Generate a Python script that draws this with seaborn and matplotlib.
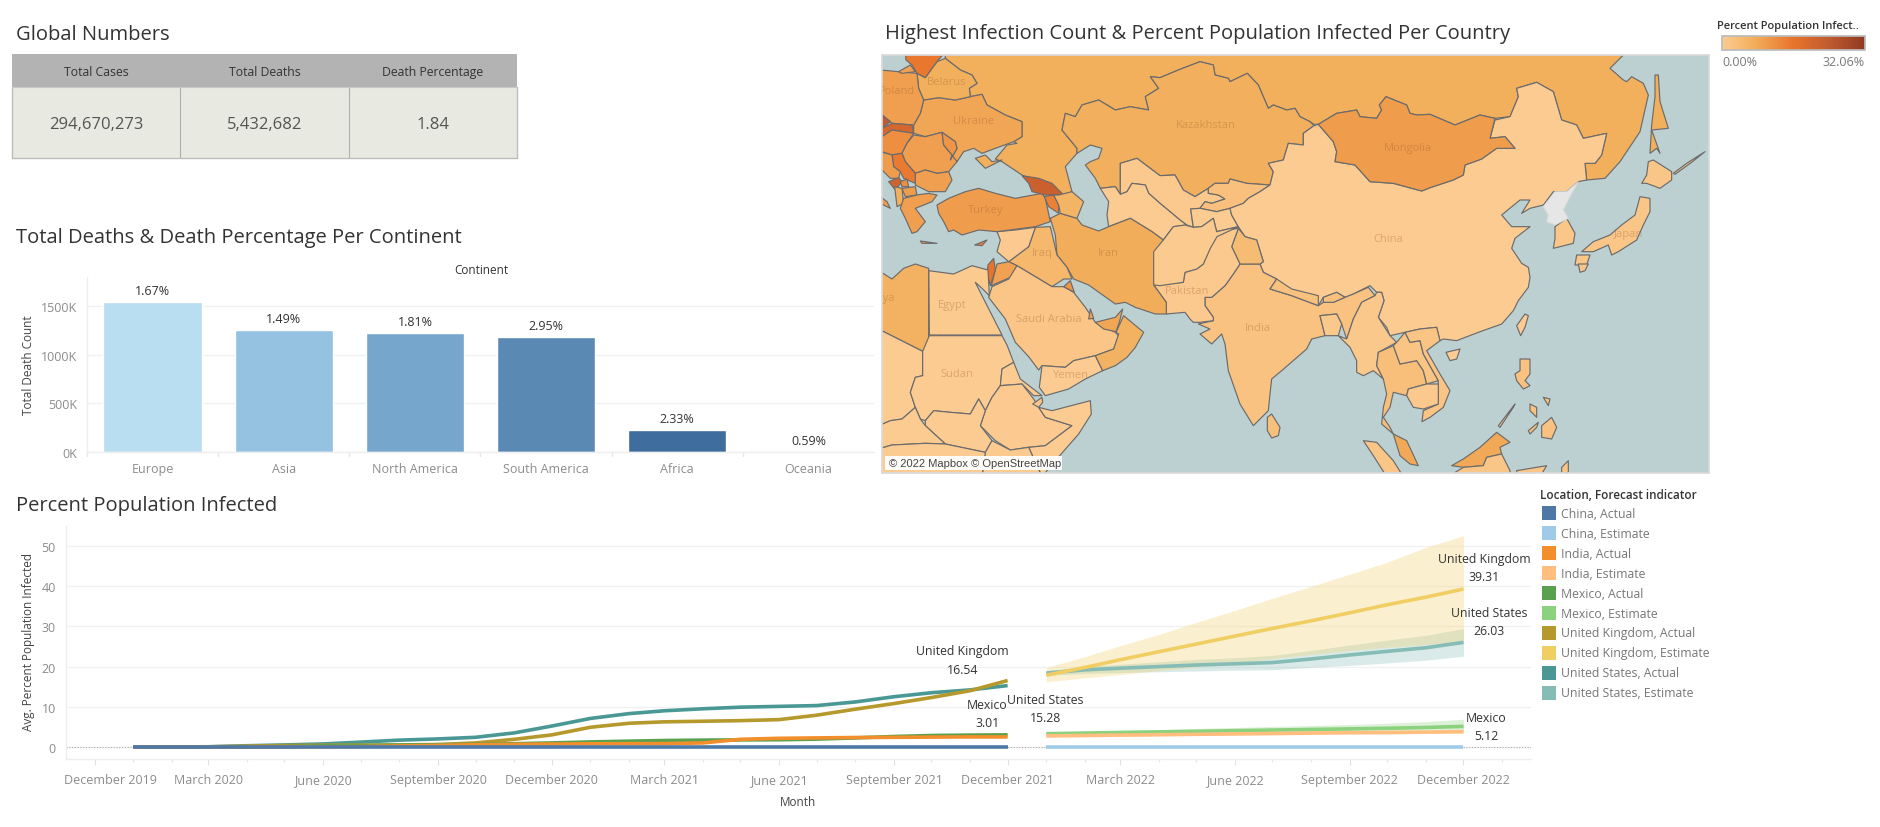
import numpy as np
import pandas as pd
import matplotlib
matplotlib.use("Agg")
import matplotlib.pyplot as plt
import matplotlib.dates as mdates
from matplotlib.colors import LinearSegmentedColormap, Normalize
from matplotlib.cm import ScalarMappable
from matplotlib.transforms import ScaledTranslation
import seaborn as sns

# ---------- Global numbers ----------
TABLE_HEADERS = ["Total Cases", "Total Deaths", "Death Percentage"]
TABLE_VALUES = ["294,670,273", "5,432,682", "1.84"]

# ---------- Continents ----------
CONTINENTS = ["Europe", "Asia", "North America", "South America", "Africa", "Oceania"]
DEATHS = [1541000, 1254000, 1223000, 1182000, 226000, 3000]
DEATH_PCT = ["1.67%", "1.49%", "1.81%", "2.95%", "2.33%", "0.59%"]
BAR_COLORS = ["#B9DDF1", "#95C2E0", "#76A6CC", "#5A89B4", "#3F6D9E", "#2A5783"]

# ---------- Percent population infected: monthly series ----------
ACTUAL_MONTHS = pd.date_range("2020-01-01", "2021-12-01", freq="MS")
EST_MONTHS = pd.date_range("2022-01-01", "2022-12-01", freq="MS")

US_ACTUAL = [0, 0, .05, .3, .5, .75, 1.2, 1.7, 2.0, 2.4, 3.5, 5.2, 7.1, 8.3, 9.0, 9.5, 9.9, 10.1, 10.3, 11.2, 12.5, 13.5, 14.2, 15.28]
UK_ACTUAL = [0, 0, .03, .2, .35, .42, .45, .5, .6, 1.0, 1.9, 3.0, 4.9, 5.9, 6.25, 6.4, 6.55, 6.8, 7.9, 9.4, 10.8, 12.3, 14.0, 16.54]
MX_ACTUAL = [0, 0, 0, .02, .1, .25, .35, .45, .55, .65, .8, 1.0, 1.25, 1.45, 1.6, 1.7, 1.75, 1.8, 1.95, 2.25, 2.6, 2.85, 2.95, 3.01]
IN_ACTUAL = [0, 0, 0, 0, .01, .04, .1, .25, .4, .55, .65, .72, .78, .8, .83, 1.0, 1.9, 2.15, 2.25, 2.35, 2.4, 2.45, 2.5, 2.5]
CN_ACTUAL = [.01] * 24

US_EST = [18.4, 19.2, 19.6, 20.0, 20.4, 20.7, 21.0, 21.9, 22.9, 23.8, 24.7, 26.03]
US_LOW = [17.8, 18.3, 18.5, 18.7, 18.9, 19.1, 19.2, 19.8, 20.3, 20.9, 21.6, 22.6]
US_HIGH = [19.0, 20.0, 20.6, 21.2, 21.8, 22.2, 22.8, 24.0, 25.4, 26.6, 27.8, 29.5]
UK_EST = [17.85, 19.8, 21.7, 23.7, 25.6, 27.6, 29.5, 31.4, 33.4, 35.4, 37.3, 39.31]
UK_LOW = [16.2, 17.2, 18.0, 19.0, 19.9, 20.9, 22.0, 23.0, 24.0, 24.8, 25.5, 26.2]
UK_HIGH = [19.75, 22.5, 25.2, 28.0, 31.0, 34.0, 37.0, 40.0, 43.0, 46.0, 49.7, 52.6]
MX_EST = [3.3, 3.45, 3.6, 3.75, 3.9, 4.05, 4.2, 4.35, 4.5, 4.65, 4.85, 5.12]
MX_LOW = [3.1, 3.2, 3.3, 3.4, 3.5, 3.6, 3.7, 3.75, 3.8, 3.9, 3.95, 4.0]
MX_HIGH = [3.55, 3.8, 4.05, 4.3, 4.6, 4.85, 5.1, 5.35, 5.6, 5.9, 6.3, 6.9]
IN_EST = [2.75, 2.85, 2.95, 3.05, 3.15, 3.25, 3.35, 3.45, 3.55, 3.6, 3.7, 3.8]
IN_LOW = [2.5, 2.6, 2.65, 2.75, 2.85, 2.95, 3.0, 3.1, 3.2, 3.25, 3.35, 3.45]
IN_HIGH = [3.0, 3.1, 3.25, 3.35, 3.45, 3.6, 3.7, 3.8, 3.9, 4.0, 4.1, 4.3]
CN_EST = [.02] * 12

LOCATIONS = ["United States", "United Kingdom", "Mexico", "India", "China"]
LEGEND_LABELS = ["China, Actual", "China, Estimate", "India, Actual", "India, Estimate", "Mexico, Actual",
                 "Mexico, Estimate", "United Kingdom, Actual", "United Kingdom, Estimate",
                 "United States, Actual", "United States, Estimate"]
LEGEND_COLORS = ["#4E79A7", "#A0CBE8", "#F28E2B", "#FFBE7D", "#59A14F", "#8CD17D", "#B6992D", "#F1CE63", "#499894", "#86BCB6"]

# ---------- Map: simplified country outlines in map units, and their values ----------
RUSSIA = [(190,-10),(190,10),(235,45),(270,60),(285,85),(262,100),(265,125),(300,118),(315,150),(370,180),(420,200),(420,245),(395,260),(405,265),(375,270),(340,312),(360,320),(420,360),(545,420),(570,410),(550,335),(585,295),(585,280),(540,225),(550,175),(580,185),(600,150),(650,135),(700,165),(745,155),(800,165),(790,125),(830,100),(805,65),(834,68),(889,45),(954,20),(994,30),(999,60),(1039,70),(1044,80),(1096,55),(1129,90),(1159,160),(1174,150),(1214,165),(1239,160),(1254,185),(1284,200),(1296,208),(1309,208),(1364,175),(1424,165),(1434,185),(1484,190),(1499,165),(1492,150),(1512,125),(1574,150),(1584,175),(1604,180),(1644,178),(1719,210),(1794,180),(1839,190),(1884,185),(1909,125),(1904,100),(1964,82),(2014,110),(2039,195),(2084,210),(2104,250),(2174,235),(2159,300),(2139,325),(2109,325),(2114,375),(2169,370),(2214,320),(2274,230),(2299,120),(2284,85),(2249,65),(2234,80),(2224,75),(2184,40),(2224,0),(2224,-10)]
KAZAKHSTAN = [(585,280),(585,295),(625,270),(660,280),(650,310),(625,320),(610,330),(640,370),(655,400),(700,395),(715,418),(715,325),(765,310),(834,362),(879,360),(904,405),(939,425),(979,400),(999,385),(1039,385),(1044,372),(1094,385),(1164,390),(1174,350),(1159,325),(1204,315),(1219,265),(1264,270),(1264,235),(1296,212),(1284,200),(1254,185),(1239,160),(1214,165),(1174,150),(1159,160),(1129,90),(1096,55),(1044,80),(1039,70),(999,60),(994,30),(954,20),(889,45),(834,68),(805,65),(830,100),(790,125),(800,165),(745,155),(700,165),(650,135),(600,150),(580,185),(550,175),(540,225)]
UZBEKISTAN = [(715,325),(765,310),(834,362),(879,360),(904,405),(939,425),(979,400),(979,415),(1009,420),(1029,432),(989,445),(969,440),(954,460),(926,462),(934,517),(914,510),(894,495),(834,445),(800,415),(790,390),(750,385),(735,410),(715,418)]
TURKMENISTAN = [(655,400),(700,395),(715,418),(735,410),(750,385),(790,390),(800,415),(834,445),(894,495),(914,510),(874,515),(844,555),(810,530),(745,490),(680,515),(675,480),(680,440)]
KYRGYZSTAN = [(979,400),(999,385),(1039,385),(1044,372),(1094,385),(1164,390),(1134,410),(1099,430),(1084,445),(1044,460),(1004,470),(954,460),(969,440),(989,445),(1029,432),(1009,420),(979,415)]
TAJIKISTAN = [(954,460),(1004,470),(1044,460),(1049,480),(1069,515),(1004,530),(994,490),(959,515),(934,517),(926,462)]
CHINA = [(1296,212),(1309,208),(1354,260),(1364,290),(1359,320),(1419,330),(1464,380),(1534,385),(1619,408),(1644,398),(1714,375),(1744,360),(1749,330),(1799,312),(1844,280),(1899,280),(1869,245),(1824,250),(1839,195),(1884,185),(1909,125),(1904,100),(1964,82),(2014,110),(2039,195),(2084,210),(2104,250),(2174,235),(2159,300),(2139,325),(2109,325),(2114,375),(2089,380),(2054,410),(2014,410),(1984,450),(1944,460),(1919,475),(1944,435),(1914,435),(1859,480),(1889,515),(1944,515),(1899,550),(1889,580),(1919,625),(1939,637),(1944,667),(1939,697),(1909,737),(1894,767),(1859,807),(1789,832),(1724,857),(1684,852),(1674,857),(1664,817),(1614,822),(1569,832),(1524,842),(1514,817),(1489,787),(1506,737),(1499,712),(1484,712),(1464,692),(1414,717),(1389,727),(1364,712),(1324,727),(1309,752),(1229,722),(1164,702),(1184,672),(1144,652),(1134,627),(1144,620),(1124,555),(1089,545),(1069,515),(1049,480),(1044,460),(1084,445),(1099,430),(1134,410),(1164,390),(1174,350),(1159,325),(1204,315),(1219,265),(1264,270),(1264,235)]
MONGOLIA = [(1309,208),(1364,175),(1424,165),(1434,185),(1484,190),(1499,165),(1492,150),(1512,125),(1574,150),(1584,175),(1604,180),(1644,178),(1719,210),(1794,180),(1839,190),(1824,250),(1869,245),(1899,280),(1844,280),(1799,312),(1749,330),(1744,360),(1714,375),(1644,398),(1619,408),(1534,385),(1464,380),(1419,330),(1359,320),(1364,290),(1354,260)]
INDIA = [(1074,627),(1134,627),(1144,652),(1184,672),(1164,702),(1229,722),(1309,752),(1324,742),(1354,742),(1389,727),(1414,717),(1459,697),(1479,722),(1439,742),(1414,792),(1394,852),(1379,807),(1364,777),(1314,782),(1329,842),(1289,852),(1274,882),(1199,947),(1169,972),(1164,1017),(1159,1067),(1114,1112),(1074,1047),(1039,947),(1029,867),(1019,837),(989,867),(954,837),(984,822),(949,807),(994,797),(994,787),(969,752),(969,727),(989,727),(1029,692),(1054,657)]
NEPAL = [(1184,672),(1229,702),(1309,722),(1309,752),(1229,722),(1164,702)]
BHUTAN = [(1324,727),(1364,712),(1389,727),(1354,742),(1324,742)]
BANGLADESH = [(1314,782),(1364,777),(1379,807),(1369,842),(1329,842)]
KASHMIR = [(1049,575),(1069,520),(1089,545),(1124,555),(1144,620),(1134,627),(1074,627)]
PAKISTAN = [(1004,530),(1069,520),(1049,575),(1074,627),(1054,657),(1029,692),(989,727),(969,727),(969,752),(994,787),(994,797),(954,802),(934,802),(924,792),(909,772),(853,777),(853,742),(815,690),(904,682),(909,652),(944,642),(964,627),(979,590)]
AFGHANISTAN = [(844,555),(874,515),(909,510),(934,517),(959,515),(994,490),(1004,530),(1069,515),(1005,545),(985,580),(964,627),(944,642),(909,652),(904,682),(834,692),(815,690),(805,592),(815,545)]
IRAN = [(505,490),(535,475),(585,490),(600,510),(650,528),(680,515),(745,490),(810,530),(844,555),(815,590),(815,690),(853,742),(853,777),(820,777),(760,757),(730,742),(700,747),(620,690),(575,672),(555,637),(525,600),(520,540)]
IRAQ = [(460,517),(505,515),(525,600),(555,637),(570,672),(545,672),(510,695),(405,632),(380,620),(440,575)]
SYRIA = [(345,530),(400,525),(460,517),(440,575),(380,620),(345,590),(355,555)]
JORDAN = [(345,627),(380,620),(405,632),(385,667),(328,692),(340,645)]
ISRAEL = [(318,630),(335,610),(340,645),(325,692),(315,657)]
SAUDI = [(330,695),(380,672),(405,632),(510,695),(545,695),(575,712),(610,757),(640,802),(700,832),(710,842),(695,882),(640,902),(575,917),(550,937),(480,932),(470,945),(440,905),(400,862),(370,792),(320,727)]
YEMEN = [(480,932),(550,937),(575,917),(640,902),(662,947),(610,972),(560,1002),(490,1022),(472,997)]
OMAN = [(640,902),(695,882),(710,837),(702,832),(725,782),(785,832),(760,877),(735,907),(700,932),(662,947)]
UAE = [(640,802),(700,787),(722,762),(712,802),(702,830),(665,822)]
QATAR = [(625,762),(635,790),(620,792)]
KUWAIT = [(545,695),(565,677),(577,712)]
TURKEY = [(165,450),(200,430),(250,410),(290,400),(340,415),(400,430),(480,415),(490,430),(505,500),(460,515),(345,530),(290,525),(240,540),(215,525),(200,530),(185,500),(170,475)]
GEORGIA = [(420,362),(470,370),(510,385),(545,420),(490,420),(450,410),(440,385)]
ARMENIA = [(487,425),(515,420),(530,450),(530,475),(500,455)]
AZERBAIJAN = [(530,420),(570,410),(605,440),(585,490),(535,475),(530,450),(515,420)]
UKRAINE = [(125,135),(170,128),(220,135),(265,125),(300,118),(315,150),(370,180),(420,200),(420,245),(395,260),(340,280),(300,295),(275,280),(245,290),(225,320),(205,315),(225,280),(220,260),(180,232),(130,245),(95,235),(95,210),(115,175)]
CRIMEA = [(280,310),(310,300),(330,320),(360,315),(310,340)]
BELARUS = [(105,55),(130,68),(150,40),(165,20),(190,10),(235,45),(270,60),(285,85),(262,100),(265,125),(220,135),(170,128),(125,135),(110,100)]
POLAND = [(-5,45),(50,50),(105,55),(110,100),(125,135),(115,175),(95,210),(30,205),(0,180),(-5,180)]
BALTICS = [(70,-10),(190,-10),(165,20),(150,40),(130,68),(105,55),(90,30),(72,15)]
KALININGRAD = [(50,50),(85,30),(100,50),(60,55)]
CZECHIA = [(-5,175),(25,200),(0,220),(-5,215)]
SLOVAKIA = [(0,220),(30,205),(90,210),(95,235),(30,225),(0,245)]
HUNGARY = [(0,245),(30,225),(95,235),(75,265),(60,295),(30,300),(0,290)]
ROMANIA = [(95,240),(130,245),(180,232),(185,270),(210,300),(225,320),(200,350),(165,355),(130,345),(100,355),(70,320),(60,295),(75,265)]
MOLDOVA = [(180,232),(220,260),(225,280),(205,315),(210,300),(185,270)]
BULGARIA = [(100,355),(130,345),(165,355),(200,350),(210,375),(190,410),(140,410),(100,390)]
SERBIA = [(30,300),(60,295),(70,320),(100,355),(100,385),(65,370),(55,350),(35,335)]
CROATIA = [(-5,290),(30,300),(35,335),(55,350),(50,370),(25,370),(-5,340)]
MONTENEGRO = [(20,380),(50,368),(60,380),(40,405)]
KOSOVO = [(55,380),(75,372),(80,395),(60,395)]
MACEDONIA = [(60,400),(100,395),(105,420),(70,425)]
ALBANIA = [(38,395),(60,400),(65,445),(45,455)]
GREECE = [(65,430),(105,420),(140,415),(165,420),(150,440),(100,460),(130,500),(105,530),(90,535),(70,490),(55,460)]
ITALY = [(-5,425),(15,440),(25,460),(-5,445)]
CYPRUS = [(278,570),(315,555),(300,572)]
CRETE = [(115,558),(165,565),(120,565)]
EGYPT = [(140,647),(215,657),(270,632),(318,645),(322,722),(300,700),(280,682),(300,722),(360,840),(142,840)]
LIBYA = [(-5,650),(30,672),(65,640),(100,627),(140,640),(140,882),(122,889),(-5,825)]
CHAD = [(-5,825),(122,889),(122,962),(100,967),(85,1012),(100,1057),(60,1092),(25,1097),(-5,1110)]
SUDAN = [(142,842),(360,842),(375,870),(395,922),(360,942),(355,992),(330,1027),(310,1067),(290,1032),(265,1077),(205,1072),(155,1067),(130,1097),(115,1092),(100,1057),(85,1012),(100,967),(122,962),(122,889)]
ERITREA = [(395,922),(415,972),(480,1022),(455,1022),(420,987),(355,992),(360,942)]
ETHIOPIA = [(355,992),(420,987),(455,1032),(470,1057),(490,1087),(570,1112),(490,1172),(440,1177),(385,1185),(340,1157),(295,1112),(310,1067),(330,1027)]
DJIBOUTI = [(452,1047),(480,1027),(482,1042),(470,1057)]
SOMALIA = [(470,1057),(510,1067),(625,1037),(628,1077),(590,1137),(520,1217),(480,1265),(440,1177),(490,1172),(570,1112),(490,1087)]
SOUTH_SUDAN = [(130,1097),(155,1067),(205,1072),(265,1077),(290,1032),(310,1067),(295,1112),(330,1157),(310,1192),(190,1167),(130,1112)]
CAR = [(-5,1110),(25,1097),(60,1092),(100,1057),(115,1092),(130,1112),(190,1167),(130,1165),(30,1170),(-5,1180)]
KENYA = [(330,1157),(385,1185),(440,1177),(480,1265),(300,1265),(310,1192)]
CONGO = [(-5,1180),(30,1170),(130,1165),(190,1167),(310,1192),(300,1265),(-5,1265)]
MYANMAR = [(1414,792),(1439,742),(1479,722),(1484,712),(1499,712),(1506,737),(1489,787),(1524,842),(1544,862),(1489,892),(1484,932),(1504,972),(1474,947),(1444,962),(1424,952),(1424,917),(1404,877),(1369,842),(1394,852)]
THAILAND = [(1489,892),(1534,872),(1554,927),(1604,917),(1624,947),(1634,987),(1579,1002),(1574,1022),(1534,1012),(1524,1057),(1504,1087),(1524,1117),(1534,1137),(1499,1107),(1504,1057),(1514,1017),(1504,972),(1484,932)]
LAOS = [(1544,862),(1569,832),(1584,862),(1614,857),(1624,897),(1669,977),(1634,987),(1624,947),(1604,917),(1554,927),(1534,872)]
VIETNAM = [(1569,832),(1614,822),(1664,817),(1674,857),(1634,887),(1674,957),(1704,1007),(1684,1057),(1644,1087),(1620,1100),(1624,1067),(1669,1047),(1669,977),(1624,897),(1614,857),(1584,862)]
CAMBODIA = [(1579,1002),(1634,987),(1669,987),(1669,1047),(1624,1062),(1594,1057),(1574,1022)]
MALAYA = [(1534,1137),(1574,1157),(1609,1232),(1584,1227),(1554,1202)]
SUMATRA = [(1444,1157),(1484,1162),(1534,1217),(1564,1265),(1514,1265),(1474,1202)]
SRI_LANKA = [(1156,1087),(1169,1077),(1194,1117),(1189,1142),(1169,1149),(1156,1127)]
HAINAN = [(1692,892),(1734,882),(1724,912),(1704,917)]
TAIWAN = [(1904,812),(1929,777),(1939,782),(1929,817),(1916,842)]
LUZON = [(1914,912),(1944,912),(1944,957),(1929,977),(1944,992),(1924,1002),(1904,977),(1899,957),(1914,947)]
MINDANAO = [(1979,1112),(2009,1087),(2024,1117),(2009,1152),(1979,1147)]
VISAYAS_A = [(1944,1047),(1964,1057),(1964,1087),(1944,1067)]
VISAYAS_B = [(1984,1027),(2004,1032),(1999,1052)]
ZAMBOANGA = [(1939,1127),(1969,1102),(1964,1117),(1944,1137)]
PALAWAN = [(1849,1112),(1899,1047),(1894,1057),(1854,1117)]
SABAH = [(1709,1232),(1744,1212),(1794,1177),(1844,1132),(1884,1162),(1854,1177),(1859,1197),(1814,1207),(1804,1232),(1744,1237)]
KALIMANTAN = [(1699,1265),(1744,1237),(1804,1232),(1814,1207),(1859,1197),(1884,1247),(1884,1265)]
SULAWESI = [(1904,1247),(1994,1232),(1974,1265),(1904,1265)]
HALMAHERA = [(2039,1237),(2059,1217),(2059,1252),(2039,1257)]
SOUTH_KOREA = [(2019,515),(2054,490),(2079,535),(2074,565),(2014,580),(2019,550)]
SAKHALIN = [(2319,60),(2329,60),(2334,140),(2359,220),(2309,225),(2334,295),(2324,280),(2304,295),(2309,210),(2319,125)]
HOKKAIDO = [(2299,320),(2314,315),(2369,350),(2369,375),(2334,400),(2294,385),(2279,385),(2294,360)]
HONSHU = [(2274,425),(2304,430),(2304,470),(2284,510),(2264,555),(2209,590),(2189,600),(2179,570),(2134,590),(2099,590),(2134,560),(2184,540),(2219,510),(2259,480)]
SHIKOKU = [(2084,600),(2124,600),(2114,630),(2079,630)]
KYUSHU = [(2089,627),(2119,627),(2109,647),(2094,652)]
KURILS = [(2374,355),(2414,325),(2469,290),(2434,318),(2379,358)]
NORTH_KOREA = [(1984,455),(2019,410),(2054,410),(2089,380),(2064,425),(2044,465),(2059,490),(2019,510),(1994,500),(1999,480)]

OUTLINES = [RUSSIA, KAZAKHSTAN, UZBEKISTAN, TURKMENISTAN, KYRGYZSTAN, TAJIKISTAN, CHINA, MONGOLIA, INDIA, NEPAL, BHUTAN,
            BANGLADESH, KASHMIR, PAKISTAN, AFGHANISTAN, IRAN, IRAQ, SYRIA, JORDAN, ISRAEL, SAUDI, YEMEN, OMAN, UAE, QATAR,
            KUWAIT, TURKEY, GEORGIA, ARMENIA, AZERBAIJAN, UKRAINE, CRIMEA, BELARUS, POLAND, BALTICS, KALININGRAD, CZECHIA,
            SLOVAKIA, HUNGARY, ROMANIA, MOLDOVA, BULGARIA, SERBIA, CROATIA, MONTENEGRO, KOSOVO, MACEDONIA, ALBANIA, GREECE,
            ITALY, CYPRUS, CRETE, EGYPT, LIBYA, CHAD, SUDAN, ERITREA, ETHIOPIA, DJIBOUTI, SOMALIA, SOUTH_SUDAN, CAR, KENYA,
            CONGO, MYANMAR, THAILAND, LAOS, VIETNAM, CAMBODIA, MALAYA, SUMATRA, SRI_LANKA, HAINAN, TAIWAN, LUZON, MINDANAO,
            VISAYAS_A, VISAYAS_B, ZAMBOANGA, PALAWAN, SABAH, KALIMANTAN, SULAWESI, HALMAHERA, SOUTH_KOREA, SAKHALIN,
            HOKKAIDO, HONSHU, SHIKOKU, KYUSHU, KURILS]
INFECTED_PCT = [7.0, 6.8, 0.6, 0.05, 2.9, 0.2, 0.01, 10.0, 2.5, 2.7, 3.0,
                1.0, 4.0, 0.6, 0.4, 7.5, 5.0, 0.3, 9.0, 16.0, 1.6, 0.03, 6.5, 8.5, 9.0,
                11.0, 10.0, 22.0, 14.0, 6.0, 8.5, 7.0, 7.0, 9.5, 15.5, 9.0, 24.0,
                20.0, 12.0, 9.5, 11.0, 9.5, 15.0, 10.0, 21.0, 12.0, 10.0, 7.0, 9.5,
                10.0, 14.0, 9.5, 0.4, 6.5, 0.05, 0.1, 0.1, 0.3, 1.3, 0.05, 0.1, 0.1, 0.4,
                0.2, 1.0, 3.2, 2.0, 1.8, 0.7, 8.0, 1.5, 2.8, 0.01, 0.1, 2.5, 2.5,
                2.5, 2.5, 2.5, 2.5, 8.0, 1.5, 1.5, 1.5, 1.2, 7.0,
                1.4, 1.4, 1.4, 1.4, 1.4]
MAP_LABELS = ["Belarus", "Poland", "Ukraine", "Turkey", "Iraq", "Iran", "Kazakhstan", "Mongolia", "China", "Pakistan",
              "India", "Saudi Arabia", "Egypt", "Sudan", "Yemen", "Libya", "Japan"]
MAP_LABEL_X = [195, 45, 275, 310, 480, 680, 971, 1579, 1519, 914, 1129, 500, 210, 225, 565, 0, 2239]
MAP_LABEL_Y = [80, 105, 197, 462, 592, 593, 210, 277, 552, 707, 817, 789, 749, 955, 960, 727, 535]
PCT_MIN, PCT_MAX = 0.0, 32.06

# ---------- Figure ----------
W, H = 1880, 828
sns.set_theme(style="white")
plt.rcParams["font.family"] = ["Open Sans", "DejaVu Sans"]
fig = plt.figure(figsize=(W / 100, H / 100), dpi=100, facecolor="white")


def box(l, t, r, b):
    return [l / W, 1 - b / H, (r - l) / W, (b - t) / H]


def ftext(x, y, s, **kw):
    kw.setdefault("va", "center")
    kw.setdefault("color", "#333333")
    return fig.text(x / W, 1 - y / H, s, **kw)


TITLE = 14.5
ftext(16, 35, "Global Numbers", fontsize=TITLE)
ftext(16, 238, "Total Deaths & Death Percentage Per Continent", fontsize=TITLE)
ftext(885, 34, "Highest Infection Count & Percent Population Infected Per Country", fontsize=TITLE)
ftext(16, 506, "Percent Population Infected", fontsize=TITLE)

# ---------- Table ----------
axt = fig.add_axes(box(12, 55, 517, 159))
axt.set_xlim(0, 3)
axt.set_ylim(0, 104)
axt.axis("off")
axt.axhspan(71, 104, color="#B3B3B3", lw=0)
axt.axhspan(0, 71, color="#E8E9E0", lw=0)
for i, (h, v) in enumerate(zip(TABLE_HEADERS, TABLE_VALUES)):
    axt.text(i + .5, 86.5, h, ha="center", va="center", fontsize=8.8, color="#333333")
    axt.text(i + .5, 34, v, ha="center", va="center", fontsize=12, color="#555555")
axt.plot([1, 1], [0, 71], color="#B0B0B0", lw=.8)
axt.plot([2, 2], [0, 71], color="#B0B0B0", lw=.8)
axt.plot([0, 0, 3, 3], [71, 0, 0, 71], color="#BDBDBD", lw=1, clip_on=False)
axt.plot([0, 3], [71, 71], color="#C8C8C8", lw=.8)

# ---------- Bars ----------
axb = fig.add_axes(box(87, 278, 874, 453))
bar_df = pd.DataFrame({"Continent": CONTINENTS, "Deaths": DEATHS})
sns.barplot(data=bar_df, x="Continent", y="Deaths", hue="Continent", palette=BAR_COLORS, width=0.75,
            legend=False, ax=axb, saturation=1)
axb.set_xlim(-.5, 5.5)
axb.set_ylim(0, 1800000)
axb.set_yticks([0, 500000, 1000000, 1500000])
axb.set_yticklabels(["0K", "500K", "1000K", "1500K"], fontsize=9, color="#8C8C8C")
axb.yaxis.get_ticklabels()[0].set_transform(
    axb.yaxis.get_ticklabels()[0].get_transform() + ScaledTranslation(0, 8 / 100, fig.dpi_scale_trans))
axb.tick_params(axis="y", length=0, pad=7)
axb.set_xticks(range(6))
axb.set_xticklabels(CONTINENTS, fontsize=9, color="#8C8C8C")
axb.tick_params(axis="x", length=0, pad=7)
axb.set_xlabel("")
axb.set_ylabel("")
ftext(29, 365, "Total Death Count", fontsize=8.5, rotation=90, ha="center", color="#444444")
axb.grid(axis="y", color="#F1F1F1", lw=1)
axb.set_axisbelow(True)
sns.despine(ax=axb, right=True, top=True)
for side in ("left", "bottom"):
    axb.spines[side].set_color("#EEEEEE")
    axb.spines[side].set_linewidth(1)
for edge in np.arange(-.5, 5.5):
    axb.plot([edge, edge], [0, -.025], transform=axb.get_xaxis_transform(), color="#E6E6E6", lw=1, clip_on=False)
for i, (d, p) in enumerate(zip(DEATHS, DEATH_PCT)):
    axb.annotate(p, (i, d), xytext=(0, 3.5), textcoords="offset points", ha="center", va="bottom",
                 fontsize=9, color="#333333")
ftext(481, 270, "Continent", fontsize=8.5, ha="center")

# ---------- Map ----------
cmap = LinearSegmentedColormap.from_list(
    "infected", [(0, "#FCCB92"), (.22, "#F2AF5C"), (.5, "#E8732A"), (.75, "#C05A30"), (1, "#8E3A20")])
norm = Normalize(PCT_MIN, PCT_MAX)
axm = fig.add_axes(box(882, 56, 1709, 474), facecolor="#BDD0D1")
axm.set_xlim(0, 2481)
axm.set_ylim(1254, 0)
axm.set_xticks([])
axm.set_yticks([])
for outline, pct in zip(OUTLINES, INFECTED_PCT):
    xs, ys = zip(*outline)
    axm.fill(xs, ys, facecolor=cmap(norm(pct)), edgecolor="#6B6B6B", lw=.85, joinstyle="round")
xs, ys = zip(*NORTH_KOREA)
axm.fill(xs, ys, facecolor="#E6E6E6", edgecolor="#DADADA", lw=.6)
for name, x, y in zip(MAP_LABELS, MAP_LABEL_X, MAP_LABEL_Y):
    axm.text(x, y, name, ha="center", va="center", fontsize=8, color="#9A5A28", alpha=.33, clip_on=True)
for s in axm.spines.values():
    s.set_color("#DADADA")
axm.add_patch(plt.Rectangle((10, 1202), 530, 42, facecolor="white", edgecolor="none", alpha=.95, zorder=5))
axm.text(20, 1223, "© 2022 Mapbox © OpenStreetMap", fontsize=8, color="#444444", va="center", ha="left",
         family="Liberation Sans", zorder=6)

# Colour legend
ftext(1717, 26, "Percent Population Infect..", fontsize=8, color="#333333", fontweight="semibold")
axc = fig.add_axes(box(1722, 37, 1865, 51))
cb = fig.colorbar(ScalarMappable(norm=norm, cmap=cmap), cax=axc, orientation="horizontal")
cb.set_ticks([])
cb.outline.set_edgecolor("#BBBBBB")
ftext(1722, 63, "0.00%", fontsize=9, color="#777777")
ftext(1865, 63, "32.06%", fontsize=9, color="#777777", ha="right")

# ---------- Time series ----------
axl = fig.add_axes(box(65.6, 527, 1531, 760))
actual_values = [US_ACTUAL, UK_ACTUAL, MX_ACTUAL, IN_ACTUAL, CN_ACTUAL]
est_values = [US_EST, UK_EST, MX_EST, IN_EST, CN_EST]
bands = [(US_LOW, US_HIGH), (UK_LOW, UK_HIGH), (MX_LOW, MX_HIGH), (IN_LOW, IN_HIGH)]
actual_df = pd.concat([pd.DataFrame({"Month": ACTUAL_MONTHS, "Value": v, "Series": f"{n}, Actual"})
                       for n, v in zip(LOCATIONS, actual_values)], ignore_index=True)
est_df = pd.concat([pd.DataFrame({"Month": EST_MONTHS, "Value": v, "Series": f"{n}, Estimate"})
                    for n, v in zip(LOCATIONS, est_values)], ignore_index=True)
palette = dict(zip(LEGEND_LABELS, LEGEND_COLORS))

for n, (lo, hi) in zip(LOCATIONS, bands):
    axl.fill_between(EST_MONTHS, lo, hi, color=palette[f"{n}, Estimate"], alpha=.3, lw=0, zorder=1.5)
axl.axhline(0, color="#AAAAAA", lw=.8, ls=(0, (1, 1.5)), zorder=1.2)
sns.lineplot(data=actual_df, x="Month", y="Value", hue="Series", palette=palette, estimator=None, lw=2.6,
             legend=False, ax=axl, zorder=3, solid_capstyle="butt")
sns.lineplot(data=est_df, x="Month", y="Value", hue="Series", palette=palette, estimator=None, lw=2.6,
             legend=False, ax=axl, zorder=3, solid_capstyle="butt")

PX_DAY = (1463.5 - 94.6) / 1096
axl.set_xlim(pd.Timestamp("2019-12-01") - pd.Timedelta(days=(94.6 - 65.6) / PX_DAY),
             pd.Timestamp("2022-12-01") + pd.Timedelta(days=(1531 - 1463.5) / PX_DAY))
axl.set_ylim(-3, 55)
axl.set_yticks(range(0, 60, 10))
axl.tick_params(axis="y", length=0, pad=7, labelsize=9, labelcolor="#8C8C8C")
axl.xaxis.set_major_locator(mdates.MonthLocator(bymonth=[3, 6, 9, 12]))
axl.xaxis.set_major_formatter(mdates.DateFormatter("%B %Y"))
axl.xaxis.set_minor_locator(mdates.MonthLocator())
axl.tick_params(axis="x", which="major", bottom=True, length=4, width=.8, color="#E0E0E0", pad=6, labelsize=9,
                labelcolor="#8C8C8C")
axl.tick_params(axis="x", which="minor", bottom=True, length=2, width=.8, color="#E6E6E6")
fig.canvas.draw()
first = axl.xaxis.get_major_ticks()[0].label1
first.set_transform(first.get_transform() + ScaledTranslation(16 / 100, 0, fig.dpi_scale_trans))
axl.set_xlabel("")
axl.set_ylabel("")
ftext(29, 642, "Avg. Percent Population Infected", fontsize=8.5, rotation=90, ha="center", color="#444444")
ftext(798, 803, "Month", fontsize=8.5, ha="center", color="#444444")
axl.grid(axis="y", color="#F1F1F1", lw=1)
axl.set_axisbelow(True)
sns.despine(ax=axl, right=True, top=True)
for side in ("left", "bottom"):
    axl.spines[side].set_color("#EEEEEE")
    axl.spines[side].set_linewidth(1)

END_LABELS = [("United Kingdom", UK_ACTUAL[-1], ACTUAL_MONTHS[-1], -45, 652, 671),
              ("Mexico", MX_ACTUAL[-1], ACTUAL_MONTHS[-1], -20, 706, 724),
              ("United States", US_ACTUAL[-1], ACTUAL_MONTHS[-1], 38, 701, 719),
              ("United Kingdom", UK_EST[-1], EST_MONTHS[-1], 21, 560, 578),
              ("United States", US_EST[-1], EST_MONTHS[-1], 26, 614, 632),
              ("Mexico", MX_EST[-1], EST_MONTHS[-1], 23, 719, 737)]
for name, val, month, dx, y1, y2 in END_LABELS:
    px = axl.transData.transform((mdates.date2num(month), 0))[0] + dx
    ftext(px, y1, name, fontsize=8.8, ha="center")
    ftext(px, y2, f"{val:.2f}", fontsize=8.8, ha="center")

# Legend
ftext(1540, 496, "Location, Forecast indicator", fontsize=8.4, fontweight="semibold")
axk = fig.add_axes(box(1542, 507, 1880, 707))
axk.set_xlim(0, 338)
axk.set_ylim(200, 0)
axk.axis("off")
for i, (lab, col) in enumerate(zip(LEGEND_LABELS, LEGEND_COLORS)):
    axk.add_patch(plt.Rectangle((0, 20 * i), 14, 14, facecolor=col, edgecolor="none"))
    axk.text(19, 7 + 20 * i, lab, fontsize=8.8, color="#777777", va="center", ha="left")

fig.savefig("out.png", dpi=100, facecolor="white")
